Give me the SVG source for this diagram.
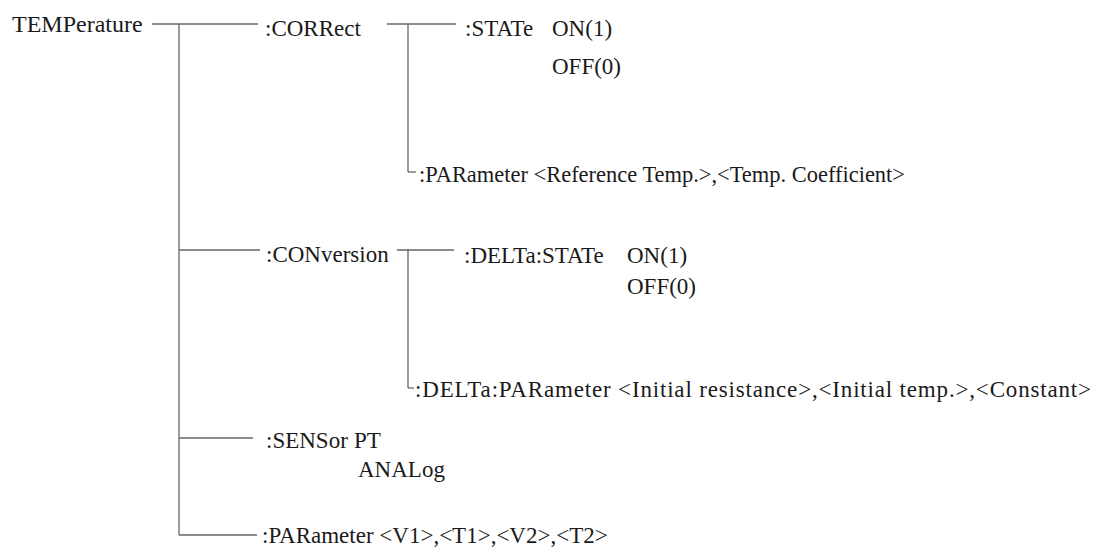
<svg xmlns="http://www.w3.org/2000/svg" width="1103" height="547" viewBox="0 0 1103 547">
<style>
text{font-family:"Liberation Serif","Times New Roman",serif;font-size:23px;fill:#1a1a1a}
.c line{stroke:#666;stroke-width:1.3}
</style>
<rect width="1103" height="547" fill="#fff"/>
<g class="c" id="connectors">
<line x1="152" y1="24" x2="258" y2="24"/>
<line x1="179" y1="24" x2="179" y2="535"/>
<line x1="179" y1="250" x2="260" y2="250"/>
<line x1="179" y1="438" x2="253" y2="438"/>
<line x1="179" y1="535" x2="257" y2="535"/>
<line x1="387" y1="24" x2="456" y2="24"/>
<line x1="408" y1="24" x2="408" y2="172"/>
<line x1="408" y1="172" x2="416" y2="172"/>
<line x1="397" y1="250" x2="454" y2="250"/>
<line x1="408" y1="250" x2="408" y2="388"/>
<line x1="408" y1="388" x2="414" y2="388"/>
</g>
<g id="n-temperature"><text x="12" y="32" style="font-size:24px">TEMPerature</text></g>
<g id="n-correct"><text x="265" y="36">:CORRect</text></g>
<g id="n-state"><text x="465" y="36">:STATe</text><text x="552" y="36">ON(1)</text><text x="552" y="74">OFF(0)</text></g>
<g id="n-parameter1"><text x="419" y="182" textLength="486" lengthAdjust="spacingAndGlyphs">:PARameter &lt;Reference Temp.&gt;,&lt;Temp. Coefficient&gt;</text></g>
<g id="n-conversion"><text x="266" y="262">:CONversion</text></g>
<g id="n-deltastate"><text x="464" y="263">:DELTa:STATe</text><text x="627" y="263">ON(1)</text><text x="627" y="294">OFF(0)</text></g>
<g id="n-deltaparam"><text x="415" y="397" textLength="676" lengthAdjust="spacing">:DELTa:PARameter &lt;Initial resistance&gt;,&lt;Initial temp.&gt;,&lt;Constant&gt;</text></g>
<g id="n-sensor"><text x="266" y="448">:SENSor</text><text x="354" y="448">PT</text><text x="358" y="477">ANALog</text></g>
<g id="n-parameter2"><text x="262" y="543">:PARameter &lt;V1&gt;,&lt;T1&gt;,&lt;V2&gt;,&lt;T2&gt;</text></g>
</svg>
